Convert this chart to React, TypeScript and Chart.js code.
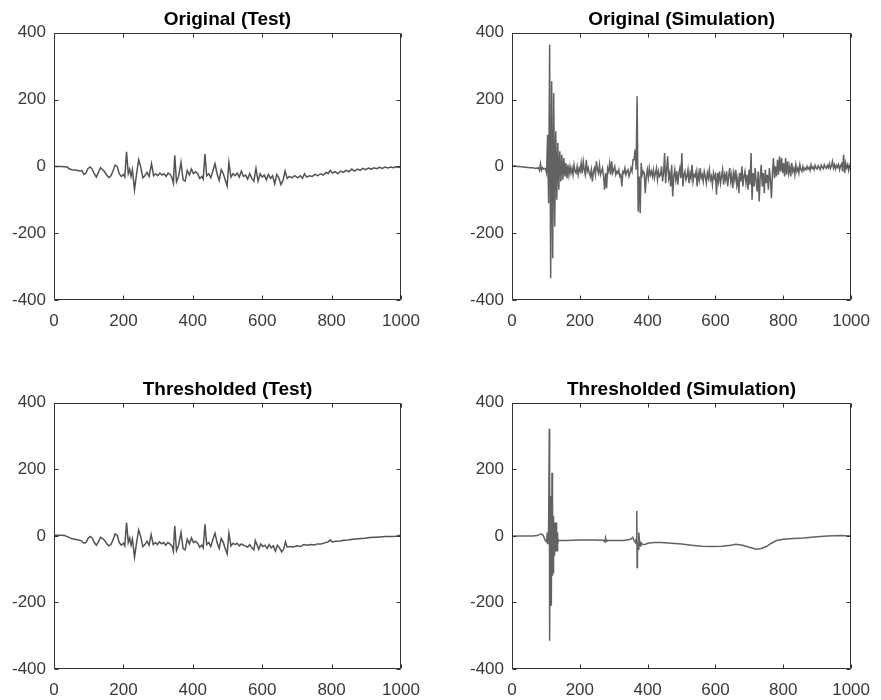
import React, { useEffect, useRef } from "react";
import { Chart, registerables } from "chart.js";

Chart.register(...registerables);

// ---------- Data ----------
const TITLES = ["Original (Test)", "Original (Simulation)", "Thresholded (Test)", "Thresholded (Simulation)"];
const X_TICK_STEP = 200;
const Y_TICK_STEP = 200;
const X_MIN = 0;
const X_MAX = 1000;
const Y_MIN = -400;
const Y_MAX = 400;

// Original (Test)
const TEST_ORIG_X = [0, 10, 20, 30, 38, 45, 52, 60, 68, 75, 80, 86, 92, 98, 104, 110, 116, 122, 128, 134, 140, 146, 152, 158, 164, 170, 176, 182, 188, 194, 200, 204, 209, 214, 218, 222, 226, 232, 238, 244, 250, 256, 262, 268, 274, 281, 287, 293, 299, 305, 311, 317, 323, 329, 335, 340, 344, 348, 353, 359, 366, 372, 378, 384, 390, 396, 402, 408, 414, 420, 426, 430, 435, 440, 446, 452, 458, 464, 470, 476, 482, 488, 494, 499, 504, 510, 516, 522, 528, 534, 540, 546, 552, 558, 564, 570, 576, 582, 588, 594, 600, 606, 612, 618, 624, 630, 636, 642, 648, 654, 660, 666, 672, 678, 686, 694, 702, 710, 716, 722, 728, 736, 744, 752, 760, 768, 776, 784, 790, 796, 802, 810, 818, 826, 834, 842, 850, 858, 866, 874, 882, 890, 898, 906, 914, 922, 930, 938, 946, 954, 962, 970, 978, 986, 994, 1000];
const TEST_ORIG_Y = [0, 0, 0, -1, -2, -8, -10, -11, -12, -14, -12, -24, -20, -6, -2, -8, -22, -32, -18, -4, -10, -16, -26, -34, -28, -14, 4, 0, -22, -30, -24, -32, 44, -22, -8, -30, -10, -70, -22, 20, -2, -34, -28, -18, -30, 8, -28, -22, -28, -20, -26, -22, -30, -20, -24, -34, -50, 33, -46, -30, 12, -40, -44, -12, -26, -8, -22, -16, -22, -36, -30, -38, 37, -28, -22, -34, -12, 8, -22, -42, -10, -22, -42, -58, 12, -32, -22, -28, -20, -32, -14, -30, -26, -38, -22, -36, -44, -6, -44, -22, -32, -26, -40, -24, -36, -28, -52, -24, -34, -54, -42, -14, -36, -30, -34, -28, -34, -28, -36, -22, -32, -28, -30, -24, -28, -22, -26, -18, -22, -12, -20, -16, -22, -14, -18, -12, -16, -8, -14, -8, -12, -6, -10, -5, -8, -4, -7, -3, -6, -2, -5, -2, -4, -1, -3, 2];

// Original (Simulation): one sample every SIM_STEP units starting at 0
const SIM_STEP = 3;
const SIM_ORIG_Y = [
  2, 1, 2, 0, 1, 0, -1, 0, -1, -1,
  -1, -2, -2, -3, -2, -3, -3, -4, -4, -4,
  -4, -5, -5, -6, -5, -6, -4, -12, 8, -12,
  -4, -8, -6, -8, -20, 95, -110, 365, -335, 255,
  -275, 220, -180, 105, -100, 70, -70, 45, -45, 35,
  -40, 25, -30, 10, -35, 5, -25, 0, -20, -5,
  -25, 5, -15, -20, 0, -25, -5, -15, 10, -20,
  15, -10, -25, 20, -15, -5, -20, -30, -10, -45,
  -15, -5, -25, 15, -10, -20, 5, -25, -15, -5,
  -30, -70, -20, -65, -5, -15, 10, -25, 15, -20,
  -10, 0, -25, -15, -20, -10, -30, -25, -60, -15,
  -20, -5, -25, -15, -10, -30, -20, -5, -15, 20,
  20, 50, -10, 210, -135, -30, -140, 10, -25, -15,
  -20, -80, -30, -10, -35, -5, -25, -15, -30, -10,
  -35, -20, -5, -40, -15, -30, -25, 0, -45, -20,
  40, -50, -10, 30, -35, -20, -60, 5, -90, -30,
  -10, -40, -15, -55, -20, -5, -35, 40, -60, -25,
  -15, -40, -30, -10, -50, -20, -35, 5, -45, -25,
  -30, -15, -60, -20, -40, -5, -35, -25, -45, -15,
  -30, -50, -20, -35, -10, -40, -30, -55, -20, -35,
  -25, -85, -20, -45, -15, -50, -30, -10, -55, -25,
  -40, -15, -60, -30, -5, -45, -25, -65, -20, -40,
  -10, -55, -35, -80, -20, -45, 0, -60, -30, -15,
  -50, -25, -70, -10, -55, 40, -100, -20, -60, -5,
  -45, -75, -15, -105, -30, 5, -60, -20, -80, -10,
  -50, -25, -70, -5, -40, -95, -20, 25, -35, 0,
  -30, 20, -25, 30, -15, 25, -20, 10, -30, 25,
  -25, 15, -20, 0, -30, 10, -15, -5, -25, 5,
  -15, -5, -20, 5, -10, -15, 0, -12, -5, -10,
  0, -8, -3, -12, 5, -6, -2, -10, 3, -5,
  -8, 2, -4, -10, 4, -3, -7, 5, -2, -6,
  3, -4, 8, -6, 2, 15, -5, 5, -8, 3,
  -3, 6, -10, 2, 8, -15, 35, -20, 10, -5,
  5, -12, 3, -5,
];

// Thresholded (Test)
const TEST_THR_X = [0, 10, 20, 30, 40, 50, 60, 70, 78, 86, 92, 98, 104, 110, 116, 122, 128, 134, 140, 146, 152, 158, 164, 170, 176, 182, 188, 194, 200, 204, 209, 214, 218, 222, 226, 232, 238, 244, 250, 256, 262, 268, 274, 280, 286, 292, 298, 304, 310, 316, 322, 328, 334, 340, 344, 348, 353, 359, 366, 372, 378, 384, 390, 396, 402, 408, 414, 420, 426, 430, 435, 440, 446, 452, 458, 464, 470, 476, 482, 488, 494, 499, 504, 510, 516, 522, 528, 534, 540, 546, 552, 558, 564, 570, 576, 580, 584, 590, 596, 602, 608, 614, 620, 626, 632, 638, 644, 650, 656, 662, 667, 672, 680, 690, 700, 710, 720, 730, 740, 750, 760, 770, 780, 790, 796, 802, 812, 824, 836, 848, 860, 872, 884, 896, 910, 925, 940, 955, 970, 985, 1000];
const TEST_THR_Y = [2, 2, 2, 1, -3, -8, -10, -12, -14, -22, -20, -8, -2, -6, -20, -28, -18, -4, -8, -14, -24, -30, -26, -12, 6, 2, -20, -28, -22, -30, 40, -20, -6, -28, -10, -64, -20, 18, -2, -32, -26, -16, -28, 4, -26, -20, -26, -18, -24, -20, -28, -20, -24, -30, -46, 30, -44, -28, 10, -38, -42, -10, -24, -6, -20, -16, -22, -34, -28, -36, 35, -26, -20, -32, -10, 8, -20, -38, -8, -20, -40, -54, 8, -30, -22, -26, -22, -30, -24, -28, -30, -34, -26, -36, -42, -14, -24, -40, -24, -32, -28, -38, -26, -36, -30, -46, -28, -36, -48, -40, -18, -34, -32, -33, -30, -32, -26, -28, -26, -27, -24, -24, -21, -18, -12, -18, -16, -15, -13, -12, -10, -9, -8, -7, -5, -4, -3, -2, -2, -1, 3];

// Thresholded (Simulation)
const SIM_THR_X = [0, 20, 40, 60, 75, 85, 92, 98, 102, 104, 106, 108, 110, 111, 113, 114, 116, 118, 119, 120, 121, 122, 123, 124, 125, 126, 127, 128, 129, 130, 131, 132, 133, 134, 135, 137, 140, 160, 200, 240, 270, 274, 276, 278, 280, 300, 330, 350, 356, 360, 364, 366, 368, 369, 370, 372, 374, 376, 378, 380, 385, 392, 400, 420, 440, 470, 500, 530, 560, 590, 620, 645, 660, 680, 700, 720, 735, 750, 765, 780, 800, 830, 860, 890, 930, 970, 1000];
const SIM_THR_Y = [0, 0, 0, 0, 1, 6, 2, -14, -18, 10, -25, 30, 322, -315, 120, -80, -210, 190, -120, 110, -110, 60, -70, 40, -60, 30, -45, 25, -30, 40, -20, 20, -45, 10, -25, -12, -14, -14, -12, -12, -13, -18, -6, -16, -13, -14, -14, -10, -4, -14, -20, -10, 75, -95, -20, -40, 10, -15, -30, -20, -25, -26, -22, -20, -20, -22, -24, -28, -31, -32, -31, -28, -25, -28, -34, -40, -38, -32, -22, -14, -10, -8, -6, -3, 0, 1, 0];

// ---------- Styling ----------
const FONT_FAMILY = "'Liberation Sans', Arial, Helvetica, sans-serif";
const AXIS_COLOR = "#333333";
const TICK_TEXT_COLOR = "#3a3a3a";
const TEST_COLOR = "#525252";
const SIM_COLOR = "#626262";

const framePlugin = {
  id: "matlabFrame",
  afterDraw(chart: any) {
    const { ctx, chartArea: a, scales } = chart;
    const L = Math.round(a.left) + 0.5;
    const R = Math.round(a.right) - 0.5;
    const T = Math.round(a.top) + 0.5;
    const B = Math.round(a.bottom) - 0.5;
    const len = 4;
    ctx.save();
    ctx.strokeStyle = AXIS_COLOR;
    ctx.lineWidth = 1;
    ctx.beginPath();
    ctx.rect(L, T, R - L, B - T);
    const xs = scales.x;
    xs.ticks.forEach((t: any) => {
      const p = Math.round(xs.getPixelForValue(t.value)) + 0.5;
      ctx.moveTo(p, B);
      ctx.lineTo(p, B - len);
      ctx.moveTo(p, T);
      ctx.lineTo(p, T + len);
    });
    const ys = scales.y;
    ys.ticks.forEach((t: any) => {
      const p = Math.round(ys.getPixelForValue(t.value)) + 0.5;
      ctx.moveTo(L, p);
      ctx.lineTo(L + len, p);
      ctx.moveTo(R, p);
      ctx.lineTo(R - len, p);
    });
    ctx.stroke();
    ctx.restore();
  },
};

type PanelSpec = {
  title: string;
  xs: number[];
  ys: number[];
  color: string;
  lineWidth: number;
  left: number;
  top: number;
  width: number;
  height: number;
  yAxisWidth: number;
  xAxisHeight: number;
  padRight: number;
};

function Panel({ spec }: { spec: PanelSpec }) {
  const ref = useRef<HTMLCanvasElement | null>(null);
  useEffect(() => {
    if (!ref.current) return;
    const points = spec.ys.map((y, i) => ({ x: spec.xs[i], y }));
    const tickFont = { family: FONT_FAMILY, size: 17 };
    const chart = new Chart(ref.current, {
      type: "line",
      data: {
        datasets: [
          {
            data: points,
            borderColor: spec.color,
            borderWidth: spec.lineWidth,
            pointRadius: 0,
            tension: 0,
            fill: false,
          },
        ],
      },
      options: {
        animation: false,
        responsive: false,
        maintainAspectRatio: false,
        layout: { padding: { left: 0, right: spec.padRight, top: 0, bottom: 0 } },
        plugins: {
          legend: { display: false },
          tooltip: { enabled: false },
          title: {
            display: true,
            text: spec.title,
            fullSize: false,
            color: "#000000",
            font: { family: FONT_FAMILY, size: 19, weight: "bold" },
            padding: { top: 8, bottom: 2 },
          },
        },
        scales: {
          x: {
            type: "linear",
            min: X_MIN,
            max: X_MAX,
            ticks: {
              stepSize: X_TICK_STEP,
              color: TICK_TEXT_COLOR,
              font: tickFont,
              padding: 11,
              maxRotation: 0,
              autoSkip: false,
              callback: (v: any) => String(v),
            },
            grid: { display: false, drawTicks: false },
            border: { display: false },
            afterFit: (s: any) => {
              s.height = spec.xAxisHeight;
            },
          },
          y: {
            type: "linear",
            min: Y_MIN,
            max: Y_MAX,
            ticks: {
              stepSize: Y_TICK_STEP,
              color: TICK_TEXT_COLOR,
              font: tickFont,
              padding: 8,
              autoSkip: false,
              callback: (v: any) => String(v),
            },
            grid: { display: false, drawTicks: false },
            border: { display: false },
            afterFit: (s: any) => {
              s.width = spec.yAxisWidth;
            },
          },
        },
      } as any,
      plugins: [framePlugin],
    });
    return () => chart.destroy();
  }, [spec]);
  return (
    <canvas
      ref={ref}
      width={spec.width}
      height={spec.height}
      style={{ position: "absolute", left: spec.left, top: spec.top, width: spec.width, height: spec.height }}
    />
  );
}

const simOrigX = SIM_ORIG_Y.map((_, i) => i * SIM_STEP);

const PANELS: PanelSpec[] = [
  { title: TITLES[0], xs: TEST_ORIG_X, ys: TEST_ORIG_Y, color: TEST_COLOR, lineWidth: 1.5, left: 0, top: 0, width: 440, height: 340, yAxisWidth: 54, xAxisHeight: 40, padRight: 39 },
  { title: TITLES[1], xs: simOrigX, ys: SIM_ORIG_Y, color: SIM_COLOR, lineWidth: 1.5, left: 440, top: 0, width: 441, height: 340, yAxisWidth: 72, xAxisHeight: 40, padRight: 23 },
  { title: TITLES[2], xs: TEST_THR_X, ys: TEST_THR_Y, color: TEST_COLOR, lineWidth: 1.5, left: 0, top: 370, width: 440, height: 330, yAxisWidth: 54, xAxisHeight: 31, padRight: 39 },
  { title: TITLES[3], xs: SIM_THR_X, ys: SIM_THR_Y, color: SIM_COLOR, lineWidth: 1.5, left: 440, top: 370, width: 441, height: 330, yAxisWidth: 72, xAxisHeight: 31, padRight: 23 },
];

export default function App() {
  return (
    <div
      style={{
        position: "absolute",
        left: 0,
        top: 0,
        width: 881,
        height: 700,
        background: "#ffffff",
        overflow: "hidden",
      }}
    >
      {PANELS.map((p, i) => (
        <Panel key={i} spec={p} />
      ))}
    </div>
  );
}
